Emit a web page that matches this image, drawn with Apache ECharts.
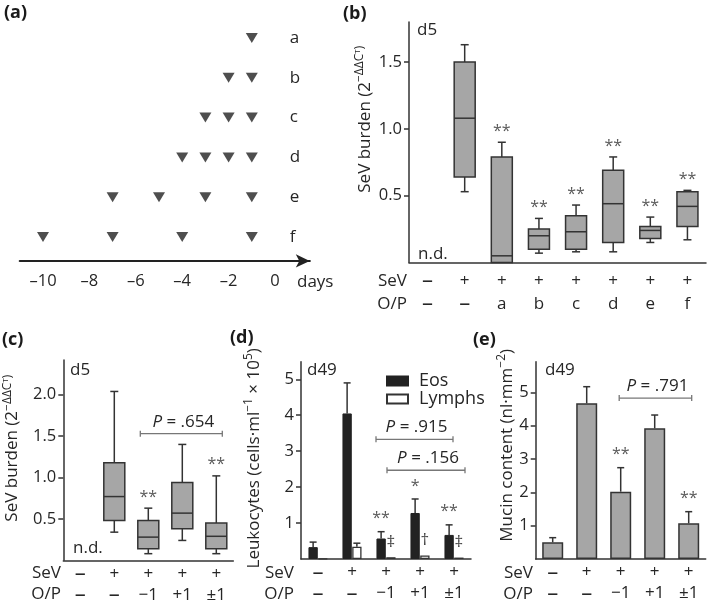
<!DOCTYPE html>
<html><head><meta charset="utf-8">
<script src="https://cdn.jsdelivr.net/npm/echarts@6/dist/echarts.min.js"></script>
<style>html,body{margin:0;padding:0;background:#fff}#c{width:709px;height:607px}</style>
</head><body><div id="c"></div>
<script>
// ================= DATA =================
// (a) treatment schedule (days relative to infection)
const aRows = ['a', 'b', 'c', 'd', 'e', 'f'];
const aSchedule = [[-1], [-2, -1], [-3, -2, -1], [-4, -3, -2, -1], [-7, -5, -3, -1], [-10, -7, -4, -1]];
const aTicks = [-10, -8, -6, -4, -2, 0];

// (b) SeV burden d5: [low, q1, median, q3, high]; null = n.d.
const bSeV = ['–', '+', '+', '+', '+', '+', '+', '+'];
const bOP = ['–', '–', 'a', 'b', 'c', 'd', 'e', 'f'];
const bBoxes = [null,
  [0.53, 0.64, 1.08, 1.50, 1.63],
  [0.00, 0.00, 0.05, 0.79, 0.90],
  [0.07, 0.10, 0.20, 0.25, 0.33],
  [0.08, 0.10, 0.23, 0.35, 0.43],
  [0.08, 0.15, 0.44, 0.69, 0.79],
  [0.15, 0.18, 0.24, 0.27, 0.34],
  [0.17, 0.27, 0.42, 0.53, 0.54]];
const bStars = ['', '', '**', '**', '**', '**', '**', '**'];
const bTicks = [0.5, 1.0, 1.5];

// shared categories for (c), (d), (e)
const cdeSeV = ['–', '+', '+', '+', '+'];
const cdeOP = ['–', '–', '−1', '+1', '±1'];

// (c) SeV burden d5
const cBoxes = [null,
  [0.34, 0.48, 0.77, 1.18, 2.04],
  [0.08, 0.14, 0.28, 0.48, 0.63],
  [0.24, 0.38, 0.57, 0.94, 1.40],
  [0.08, 0.14, 0.29, 0.45, 1.02]];
const cStars = ['', '', '**', '', '**'];
const cTicks = [0.5, 1.0, 1.5, 2.0];
const cBrackets = [[2, 4, 1.53, '.654']];

// (d) Leukocytes d49
const dEos = [0.33, 4.05, 0.57, 1.28, 0.67];
const dEosSem = [0.14, 0.85, 0.19, 0.39, 0.28];
const dLym = [0.01, 0.34, 0.05, 0.10, 0.04];
const dLymSem = [0, 0.10, 0, 0, 0];
const dStars = ['', '', '**', '*', '**'];
const dDaggers = ['', '', '‡', '†', '‡'];
const dTicks = [1, 2, 3, 4, 5];
const dBrackets = [[2, 4, 3.33, '.915'], [2, 4, 2.47, '.156']];

// (e) Mucin content d49
const eMean = [0.50, 4.67, 2.02, 3.92, 1.07];
const eSem = [0.14, 0.50, 0.72, 0.40, 0.35];
const eStars = ['', '', '**', '', '**'];
const eTicks = [1, 2, 3, 4, 5];
const eBrackets = [[2, 4, 4.83, '.791']];

// ================= STYLE / LAYOUT =================
const FONT = '"Open Sans", "Noto Sans", sans-serif';
const TXT = '#262626';
const GREY = '#a6a6a6';
const EDGE = '#333';
const AX = { color: '#333', width: 1.5 };

const chart = echarts.init(document.getElementById('c'), null, { renderer: 'canvas', width: 709, height: 607 });

function boxRender(stars, boxW, capW) {
  return function (params, api) {
    const i = api.value(0);
    const lo = api.value(1), q1 = api.value(2), md = api.value(3), q3 = api.value(4), hi = api.value(5);
    const x = api.coord([i, 0])[0];
    const y = v => api.coord([i, v])[1];
    const ls = { stroke: EDGE, lineWidth: 1.5 };
    const ch = [];
    ch.push({ type: 'line', shape: { x1: x, y1: y(q3), x2: x, y2: y(hi) }, style: ls });
    ch.push({ type: 'line', shape: { x1: x - capW / 2, y1: y(hi), x2: x + capW / 2, y2: y(hi) }, style: ls });
    if (lo < q1) {
      ch.push({ type: 'line', shape: { x1: x, y1: y(q1), x2: x, y2: y(lo) }, style: ls });
      ch.push({ type: 'line', shape: { x1: x - capW / 2, y1: y(lo), x2: x + capW / 2, y2: y(lo) }, style: ls });
    }
    ch.push({ type: 'rect', shape: { x: x - boxW / 2, y: y(q3), width: boxW, height: y(q1) - y(q3) },
      style: { fill: GREY, stroke: EDGE, lineWidth: 1.5 } });
    ch.push({ type: 'line', shape: { x1: x - boxW / 2, y1: y(md), x2: x + boxW / 2, y2: y(md) }, style: ls });
    if (stars[i]) {
      ch.push({ type: 'text', style: { text: stars[i], x: x, y: y(hi) - 11, align: 'center', verticalAlign: 'middle',
        fontSize: 16, fontFamily: FONT, fill: '#5a5a5a' } });
    }
    return { type: 'group', children: ch };
  };
}

function errRender(means, sems, off, capW, marks, markGap, markSize, markColor) {
  return function (params, api) {
    const i = params.dataIndex;
    const m = means[i], s = sems[i];
    const x = api.coord([i, 0])[0] + off;
    const yTop = api.coord([i, m + s])[1];
    const yM = api.coord([i, m])[1];
    const ch = [];
    if (s > 0) {
      ch.push({ type: 'line', shape: { x1: x, y1: yM, x2: x, y2: yTop }, style: { stroke: EDGE, lineWidth: 1.5 } });
      ch.push({ type: 'line', shape: { x1: x - capW / 2, y1: yTop, x2: x + capW / 2, y2: yTop }, style: { stroke: EDGE, lineWidth: 1.5 } });
    }
    if (marks && marks[i]) {
      ch.push({ type: 'text', style: { text: marks[i], x: x, y: yTop - markGap, align: 'center', verticalAlign: 'middle',
        fontSize: markSize, fontFamily: FONT, fill: markColor } });
    }
    return { type: 'group', children: ch };
  };
}

function bracketRender(list, insets) {
  return function (params, api) {
    const b = list[params.dataIndex];
    const ins = insets[params.dataIndex];
    const p1 = api.coord([b[0], b[2]]), p2 = api.coord([b[1], b[2]]);
    const x1 = p1[0] + ins[0], x2 = p2[0] + ins[1], y = p1[1];
    const st = { stroke: '#777', lineWidth: 1.3 };
    return { type: 'group', children: [
      { type: 'line', shape: { x1: x1, y1: y, x2: x2, y2: y }, style: st },
      { type: 'line', shape: { x1: x1, y1: y - 3, x2: x1, y2: y + 3 }, style: st },
      { type: 'line', shape: { x1: x2, y1: y - 3, x2: x2, y2: y + 3 }, style: st },
      { type: 'text', style: { text: '{i|P} = ' + b[3], x: (x1 + x2) / 2 + 2, y: y - 12, align: 'center', verticalAlign: 'middle',
        fontSize: 17, fontFamily: FONT, fill: TXT,
        rich: { i: { fontStyle: 'italic', fontSize: 17, fontFamily: FONT, fill: TXT } } } }
    ] };
  };
}

const nameRich = {
  n: { fontSize: 17, fontFamily: FONT, color: TXT, lineHeight: 22 },
  s: { fontSize: 12, fontFamily: FONT, color: TXT, verticalAlign: 'top', lineHeight: 13 },
  t: { fontSize: 8, fontFamily: FONT, color: TXT, verticalAlign: 'top', lineHeight: 18 }
};

const sign = s => s === '–' ? '{d|–}' : s;

function catAxis(grid, sev, op, lineH, margin) {
  return {
    type: 'category', gridIndex: grid, data: sev.map((_, i) => i),
    axisLine: { lineStyle: AX }, axisTick: { show: false }, splitLine: { show: false },
    axisLabel: { interval: 0, margin: margin, fontSize: 17, fontFamily: FONT, color: TXT, lineHeight: lineH,
      rich: { d: { fontSize: 22, fontFamily: FONT, color: TXT, lineHeight: lineH } },
      formatter: (v, i) => sign(sev[i]) + '\n' + sign(op[i]) }
  };
}

function valAxis(grid, max, interval, ticks, name, gap, pad) {
  return {
    type: 'value', gridIndex: grid, min: 0, max: max, interval: interval,
    axisLine: { show: true, lineStyle: AX },
    axisTick: { show: true, length: 5, lineStyle: AX, customValues: ticks },
    splitLine: { show: false },
    axisLabel: { margin: 7, fontSize: 16.5, fontFamily: FONT, color: TXT, customValues: ticks,
      formatter: v => ticks.some(t => Math.abs(t - v) < 1e-6) ? (interval < 1 ? v.toFixed(1) : String(v)) : '' },
    name: name, nameLocation: 'middle', nameGap: gap, nameMoveOverlap: false,
    nameTextStyle: { rich: nameRich, padding: [0, 0, 0, pad] }
  };
}

const aPoints = [];
aSchedule.forEach((days, r) => days.forEach(d => aPoints.push([d, aRows[r]])));

const grids = [
  { left: 19.8, top: 18.1, width: 290, height: 238.8 },
  { left: 409, top: 22, width: 297, height: 240.5 },
  { left: 63.3, top: 360, width: 170, height: 200.3 },
  { left: 301, top: 361.7, width: 170, height: 197.3 },
  { left: 535.7, top: 361.7, width: 170, height: 197.3 }
].map(g => Object.assign(g, { outerBoundsMode: 'none', containLabel: false }));

const option = {
  animation: false,
  backgroundColor: '#fff',
  textStyle: { fontFamily: FONT, color: TXT },
  grid: grids,
  legend: {
    data: ['Eos', 'Lymphs'], orient: 'vertical', left: 381, top: 367, icon: 'rect',
    itemWidth: 21, itemHeight: 9, itemGap: 0, selectedMode: false,
    textStyle: { fontSize: 18, fontFamily: FONT, color: TXT, lineHeight: 16, padding: [0, 0, 0, 6] }
  },
  xAxis: [
    { type: 'value', gridIndex: 0, min: -11, max: 1.5, offset: 4,
      axisLine: { show: true, symbol: ['none', 'arrow'], symbolSize: [10, 14], lineStyle: { color: '#222', width: 2.2 } },
      axisTick: { show: false }, splitLine: { show: false },
      axisLabel: { margin: 12, fontSize: 16.5, fontFamily: FONT, color: TXT, customValues: aTicks,
        formatter: v => aTicks.includes(v) ? (v < 0 ? '–' + (-v) : String(v)) : '' } },
    catAxis(1, bSeV, bOP, 23, 7),
    catAxis(2, cdeSeV, cdeOP, 21, 3),
    catAxis(3, cdeSeV, cdeOP, 21, 3),
    catAxis(4, cdeSeV, cdeOP, 21, 3)
  ],
  yAxis: [
    { type: 'category', gridIndex: 0, data: aRows, inverse: true, position: 'right', offset: -20,
      axisLine: { show: false }, axisTick: { show: false }, splitLine: { show: false },
      axisLabel: { margin: 0, fontSize: 17, fontFamily: FONT, color: TXT, align: 'left' } },
    valAxis(1, 1.80, 0.5, bTicks, '{n|SeV burden (2}{s|−ΔΔC}{t|T}{s|)}', 33, 46),
    valAxis(2, 2.42, 0.5, cTicks, '{n|SeV burden (2}{s|−ΔΔC}{t|T}{s|)}', 40, 24),
    valAxis(3, 5.49, 1, dTicks, '{n|Leukocytes (cells·ml}{s|−1}{n| × 10}{s|5}{n|)}', 36, 4),
    valAxis(4, 5.92, 1, eTicks, '{n|Mucin content (nl·mm}{s|−2}{n|)}', 18, 30)
  ],
  series: [
    { type: 'scatter', xAxisIndex: 0, yAxisIndex: 0, data: aPoints, symbol: 'triangle', symbolRotate: 180,
      symbolSize: [12, 10], itemStyle: { color: '#222' } },
    { type: 'custom', xAxisIndex: 1, yAxisIndex: 1, clip: false,
      data: bBoxes.map((b, i) => b ? [i].concat(b) : null).filter(Boolean),
      renderItem: boxRender(bStars, 21, 8) },
    { type: 'custom', xAxisIndex: 2, yAxisIndex: 2, clip: false,
      data: cBoxes.map((b, i) => b ? [i].concat(b) : null).filter(Boolean),
      renderItem: boxRender(cStars, 21, 8) },
    { type: 'custom', xAxisIndex: 2, yAxisIndex: 2, clip: false,
      data: cBrackets.map(b => [b[0], b[2]]), renderItem: bracketRender(cBrackets, [[-8, 6]]) },
    { name: 'Eos', type: 'bar', xAxisIndex: 3, yAxisIndex: 3, data: dEos, barWidth: 9.3, barGap: '5%',
      itemStyle: { color: '#222', borderColor: '#222', borderWidth: 1 } },
    { name: 'Lymphs', type: 'bar', xAxisIndex: 3, yAxisIndex: 3, data: dLym, barWidth: 9.3, barGap: '5%',
      itemStyle: { color: '#fff', borderColor: '#333', borderWidth: 1.3 } },
    { type: 'custom', xAxisIndex: 3, yAxisIndex: 3, clip: false,
      data: dEos.map((m, i) => [i, m + dEosSem[i]]),
      renderItem: errRender(dEos, dEosSem, -4.88, 7, dStars, 13, 16, '#5a5a5a') },
    { type: 'custom', xAxisIndex: 3, yAxisIndex: 3, clip: false,
      data: dLym.map((m, i) => [i, m + dLymSem[i]]),
      renderItem: errRender(dLym, dLymSem, 4.88, 7, dDaggers, 15, 17, '#444') },
    { type: 'custom', xAxisIndex: 3, yAxisIndex: 3, clip: false,
      data: dBrackets.map(b => [b[0], b[2]]), renderItem: bracketRender(dBrackets, [[-10, -1], [1, 11]]) },
    { type: 'bar', xAxisIndex: 4, yAxisIndex: 4, data: eMean, barWidth: 21,
      itemStyle: { color: GREY, borderColor: EDGE, borderWidth: 1.5 } },
    { type: 'custom', xAxisIndex: 4, yAxisIndex: 4, clip: false,
      data: eMean.map((m, i) => [i, m + eSem[i]]),
      renderItem: errRender(eMean, eSem, 0, 7, eStars, 13, 16, '#5a5a5a') },
    { type: 'custom', xAxisIndex: 4, yAxisIndex: 4, clip: false,
      data: eBrackets.map(b => [b[0], b[2]]), renderItem: bracketRender(eBrackets, [[-1.5, 3]]) }
  ],
  graphic: [
    { type: 'text', x: 4, y: 13, style: { text: '(a)', fontSize: 18, fontWeight: 'bold', fontFamily: FONT, fill: '#1a1a1a', verticalAlign: 'middle' } },
    { type: 'text', x: 343, y: 14, style: { text: '(b)', fontSize: 18, fontWeight: 'bold', fontFamily: FONT, fill: '#1a1a1a', verticalAlign: 'middle' } },
    { type: 'text', x: 2, y: 340, style: { text: '(c)', fontSize: 18, fontWeight: 'bold', fontFamily: FONT, fill: '#1a1a1a', verticalAlign: 'middle' } },
    { type: 'text', x: 230, y: 338, style: { text: '(d)', fontSize: 18, fontWeight: 'bold', fontFamily: FONT, fill: '#1a1a1a', verticalAlign: 'middle' } },
    { type: 'text', x: 473, y: 340, style: { text: '(e)', fontSize: 18, fontWeight: 'bold', fontFamily: FONT, fill: '#1a1a1a', verticalAlign: 'middle' } },
    { type: 'text', x: 297, y: 282, style: { text: 'days', fontSize: 17, fontFamily: FONT, fill: TXT, verticalAlign: 'middle' } },
    { type: 'text', x: 417, y: 30, style: { text: 'd5', fontSize: 17, fontFamily: FONT, fill: TXT, verticalAlign: 'middle' } },
    { type: 'text', x: 418, y: 254, style: { text: 'n.d.', fontSize: 17, fontFamily: FONT, fill: TXT, verticalAlign: 'middle' } },
    { type: 'text', x: 70, y: 370, style: { text: 'd5', fontSize: 17, fontFamily: FONT, fill: TXT, verticalAlign: 'middle' } },
    { type: 'text', x: 73, y: 548, style: { text: 'n.d.', fontSize: 17, fontFamily: FONT, fill: TXT, verticalAlign: 'middle' } },
    { type: 'text', x: 307, y: 370, style: { text: 'd49', fontSize: 17, fontFamily: FONT, fill: TXT, verticalAlign: 'middle' } },
    { type: 'text', x: 545, y: 370, style: { text: 'd49', fontSize: 17, fontFamily: FONT, fill: TXT, verticalAlign: 'middle' } },
    { type: 'text', x: 407, y: 281, style: { text: 'SeV', fontSize: 17, fontFamily: FONT, fill: TXT, align: 'right', verticalAlign: 'middle' } },
    { type: 'text', x: 407, y: 304, style: { text: 'O/P', fontSize: 17, fontFamily: FONT, fill: TXT, align: 'right', verticalAlign: 'middle' } },
    { type: 'text', x: 61, y: 573, style: { text: 'SeV', fontSize: 17, fontFamily: FONT, fill: TXT, align: 'right', verticalAlign: 'middle' } },
    { type: 'text', x: 61, y: 594, style: { text: 'O/P', fontSize: 17, fontFamily: FONT, fill: TXT, align: 'right', verticalAlign: 'middle' } },
    { type: 'text', x: 294, y: 573, style: { text: 'SeV', fontSize: 17, fontFamily: FONT, fill: TXT, align: 'right', verticalAlign: 'middle' } },
    { type: 'text', x: 294, y: 594, style: { text: 'O/P', fontSize: 17, fontFamily: FONT, fill: TXT, align: 'right', verticalAlign: 'middle' } },
    { type: 'text', x: 533, y: 573, style: { text: 'SeV', fontSize: 17, fontFamily: FONT, fill: TXT, align: 'right', verticalAlign: 'middle' } },
    { type: 'text', x: 533, y: 594, style: { text: 'O/P', fontSize: 17, fontFamily: FONT, fill: TXT, align: 'right', verticalAlign: 'middle' } }
  ]
};
chart.setOption(option);
</script>
</body></html>
